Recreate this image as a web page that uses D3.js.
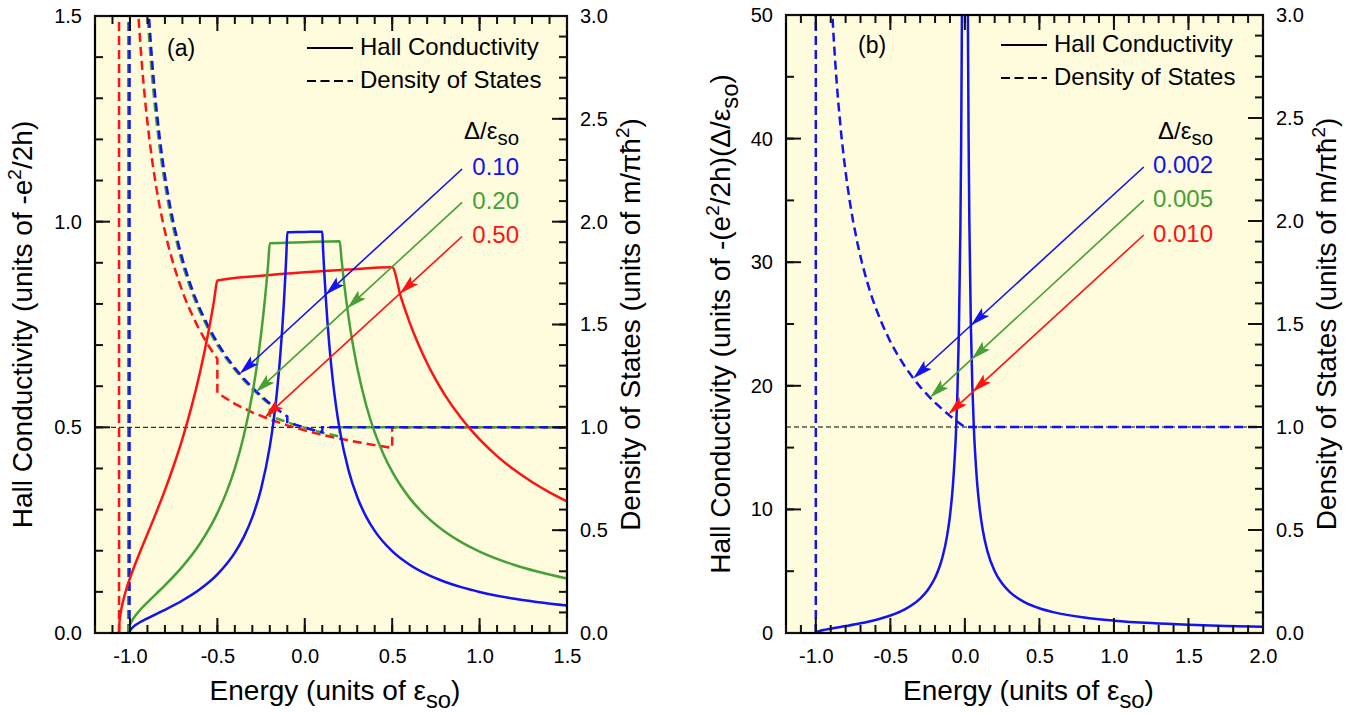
<!DOCTYPE html>
<html><head><meta charset="utf-8">
<script src="https://cdn.jsdelivr.net/npm/d3@7"></script>
<style>
body{margin:0;background:#fff}
text{font-family:"Liberation Sans",Arial,Helvetica,sans-serif;fill:#000}
</style></head>
<body><svg id="c" width="1360" height="714"></svg>
<script>
// ---------------- DATA ----------------
const hallA_010 = [[-1.0025,0],[-1.0,0.0050],[-0.99,0.0113],[-0.98,0.0154],[-0.97,0.0186],[-0.95,0.0242],[-0.9,0.0357],[-0.85,0.0461],[-0.8,0.0564],[-0.7,0.0789],[-0.6,0.1062],[-0.5,0.1425],[-0.4,0.1953],[-0.35,0.2325],[-0.3,0.2817],[-0.25,0.3505],[-0.2,0.4536],[-0.18,0.5109],[-0.16,0.5828],[-0.14,0.6754],[-0.12,0.7995],[-0.11,0.8788],[-0.105,0.9243],[-0.1,0.9744],[0,0.975],[0.1,0.9756],[0.105,0.9302],[0.11,0.8889],[0.12,0.8163],[0.14,0.7018],[0.16,0.6154],[0.18,0.5479],[0.2,0.4938],[0.25,0.396],[0.3,0.3306],[0.35,0.2837],[0.4,0.2484],[0.5,0.199],[0.6,0.166],[0.7,0.1423],[0.8,0.1246],[0.9,0.1108],[1.0,0.0998],[1.2,0.0832],[1.5,0.0666]];
const hallA_020 = [[-1.01,0],[-1.005,0.0142],[-1.0,0.0202],[-0.98,0.0357],[-0.95,0.0521],[-0.9,0.0745],[-0.85,0.0952],[-0.8,0.116],[-0.7,0.1614],[-0.6,0.2171],[-0.5,0.2915],[-0.45,0.3401],[-0.4,0.4005],[-0.35,0.4779],[-0.3,0.5811],[-0.28,0.6329],[-0.26,0.6928],[-0.24,0.763],[-0.22,0.8465],[-0.21,0.8944],[-0.2,0.9474],[0,0.9501],[0.2,0.9524],[0.21,0.9091],[0.22,0.8696],[0.24,0.8],[0.26,0.7407],[0.28,0.6897],[0.3,0.6452],[0.35,0.5556],[0.4,0.4878],[0.45,0.4348],[0.5,0.3922],[0.6,0.3279],[0.7,0.2817],[0.8,0.2469],[0.9,0.2198],[1.0,0.198],[1.2,0.1653],[1.5,0.1325]];
const hallA_050 = [[-1.0625,0],[-1.06,0.0251],[-1.055,0.0436],[-1.05,0.0566],[-1.04,0.0767],[-1.02,0.1077],[-1.0,0.1333],[-0.97,0.1676],[-0.95,0.189],[-0.9,0.2407],[-0.85,0.2927],[-0.8,0.3473],[-0.75,0.4066],[-0.7,0.4722],[-0.65,0.5466],[-0.6,0.6326],[-0.55,0.7342],[-0.52,0.805],[-0.5,0.8571],[-0.25,0.8685],[0,0.8769],[0.25,0.8835],[0.5,0.8889],[0.55,0.8163],[0.6,0.7547],[0.65,0.7018],[0.7,0.6557],[0.75,0.6154],[0.8,0.5797],[0.9,0.5195],[1.0,0.4706],[1.1,0.4301],[1.2,0.396],[1.3,0.367],[1.4,0.3419],[1.5,0.32]];
const dosA_010 = [[-1.0025,0],[-1.0025,3.5],[-0.9209,3.5],[-0.91,3.288],[-0.9,3.123],[-0.89,2.981],[-0.88,2.857],[-0.87,2.747],[-0.86,2.649],[-0.85,2.561],[-0.83,2.408],[-0.81,2.279],[-0.79,2.169],[-0.77,2.074],[-0.75,1.990],[-0.72,1.881],[-0.69,1.789],[-0.66,1.709],[-0.63,1.638],[-0.6,1.576],[-0.55,1.487],[-0.5,1.411],[-0.45,1.345],[-0.4,1.288],[-0.35,1.238],[-0.3,1.193],[-0.25,1.153],[-0.2,1.116],[-0.15,1.083],[-0.1,1.053],[-0.1,1.026],[-0.05,1.012],[0,0.9994],[0.05,0.9874],[0.1,0.9762],[0.1,1.0],[1.5,1.0]];
const dosA_020 = [[-1.01,0],[-1.01,3.5],[-0.9284,3.5],[-0.92,3.333],[-0.91,3.162],[-0.9,3.015],[-0.89,2.887],[-0.88,2.774],[-0.87,2.673],[-0.86,2.582],[-0.85,2.5],[-0.83,2.357],[-0.81,2.236],[-0.79,2.132],[-0.77,2.041],[-0.75,1.961],[-0.72,1.857],[-0.69,1.768],[-0.66,1.690],[-0.63,1.622],[-0.6,1.562],[-0.55,1.474],[-0.5,1.400],[-0.45,1.336],[-0.4,1.280],[-0.35,1.231],[-0.3,1.187],[-0.25,1.147],[-0.2,1.111],[-0.2,1.0556],[-0.1,1.0242],[0,0.9975],[0.1,0.9746],[0.2,0.9545],[0.2,1.0],[1.5,1.0]];
const dosA_050 = [[-1.0625,0],[-1.0625,3.5],[-0.9809,3.5],[-0.97,3.288],[-0.96,3.123],[-0.95,2.981],[-0.94,2.857],[-0.93,2.747],[-0.92,2.649],[-0.91,2.561],[-0.89,2.408],[-0.87,2.279],[-0.85,2.169],[-0.83,2.074],[-0.81,1.990],[-0.78,1.881],[-0.75,1.789],[-0.72,1.709],[-0.69,1.638],[-0.66,1.576],[-0.62,1.503],[-0.58,1.440],[-0.54,1.383],[-0.5,1.333],[-0.5,1.1667],[-0.4,1.1143],[-0.3,1.0726],[-0.2,1.0384],[-0.1,1.0096],[0,0.9851],[0.1,0.9637],[0.2,0.9450],[0.3,0.9284],[0.4,0.9135],[0.5,0.9000],[0.5,1.0],[1.5,1.0]];
const hallB_0002 = [[-1.0,0],[-0.995,0.0711],[-0.99,0.101],[-0.97,0.1786],[-0.95,0.2354],[-0.9,0.3514],[-0.8,0.559],[-0.7,0.7825],[-0.6,1.054],[-0.5,1.414],[-0.4,1.936],[-0.35,2.303],[-0.3,2.789],[-0.25,3.464],[-0.2,4.472],[-0.17,5.359],[-0.15,6.146],[-0.12,7.817],[-0.1,9.487],[-0.08,11.99],[-0.06,16.16],[-0.05,19.49],[-0.04,24.49],[-0.03,32.83],[-0.025,39.5],[-0.02,49.5],[-0.015,65.6],[-0.01,99.5],[-0.005,199],[-0.002,499.5],[0.002,500],[0.005,200],[0.01,100],[0.015,66.67],[0.02,50],[0.025,40],[0.03,33.33],[0.04,25],[0.05,20],[0.06,16.67],[0.08,12.5],[0.1,10],[0.12,8.333],[0.15,6.667],[0.2,5],[0.25,4],[0.3,3.333],[0.4,2.5],[0.5,2],[0.6,1.667],[0.8,1.25],[1.0,1],[1.25,0.8],[1.5,0.6667],[1.75,0.5714],[2.0,0.5]];
const dosB_0002 = [[-1.0,0],[-1.0,3.5],[-0.9184,3.5],[-0.91,3.333],[-0.9,3.162],[-0.89,3.015],[-0.88,2.887],[-0.87,2.774],[-0.86,2.673],[-0.85,2.582],[-0.83,2.425],[-0.81,2.294],[-0.79,2.182],[-0.77,2.085],[-0.75,2.0],[-0.72,1.890],[-0.69,1.796],[-0.66,1.715],[-0.63,1.644],[-0.6,1.581],[-0.55,1.491],[-0.5,1.414],[-0.45,1.348],[-0.4,1.291],[-0.35,1.240],[-0.3,1.195],[-0.25,1.155],[-0.2,1.118],[-0.15,1.085],[-0.1,1.054],[-0.05,1.026],[-0.02,1.010],[-0.002,1.001],[-0.002,1.0005],[0.002,0.9995],[0.002,1.0],[2.0,1.0]];

const xTicksA = [-1.0,-0.5,0,0.5,1.0,1.5];
const xLabelsA = ["-1.0","-0.5","0.0","0.5","1.0","1.5"];
const yTicksA = [0,0.5,1.0,1.5];
const yLabelsA = ["0.0","0.5","1.0","1.5"];
const xTicksB = [-1.0,-0.5,0,0.5,1.0,1.5,2.0];
const xLabelsB = ["-1.0","-0.5","0.0","0.5","1.0","1.5","2.0"];
const yTicksB = [0,10,20,30,40,50];
const yLabelsB = ["0","10","20","30","40","50"];
const dosTicks = [0,0.5,1.0,1.5,2.0,2.5,3.0];
const dosLabels = ["0.0","0.5","1.0","1.5","2.0","2.5","3.0"];
const deltaA = ["0.10","0.20","0.50"];
const deltaB = ["0.002","0.005","0.010"];
const arrowsA = [
  {start:[0.90,1.128], tip:[-0.372,0.630], mid:0.119},
  {start:[0.90,1.047], tip:[-0.28,0.585], mid:0.243},
  {start:[0.90,0.964], tip:[-0.229,0.524], mid:0.543}
];
const arrowsB = [
  {start:[1.2,37.7], tip:[-0.347,20.6], mid:0.040},
  {start:[1.2,35.0], tip:[-0.234,19.05], mid:0.045},
  {start:[1.2,32.2], tip:[-0.111,17.7], mid:0.051}
];

const BLUE="#1212f2", GREEN="#46a035", RED="#ff1212";
const cols=[BLUE,GREEN,RED];
const BG="#fefcdc";
const svg=d3.select("#c");
const tickLayer=[];

function rich(t, parts, size){
  parts.forEach((p,i)=>{
    const ts=t.append("tspan").text(p.t);
    if(p.sub){ts.attr("font-size",size*0.85).attr("dy",size*0.27);}
    else if(p.sup){ts.attr("font-size",size*0.68).attr("dy",-size*0.4);}
    else if(i>0){const prev=parts[i-1]; if(prev.sub) ts.attr("dy",-size*0.27); if(prev.sup) ts.attr("dy",size*0.4);}
  });
  return t;
}

function panel(c){
  const g=svg.append("g");
  const x=d3.scaleLinear().domain(c.xDom).range([c.L,c.R]);
  const yL=d3.scaleLinear().domain(c.yLDom).range([c.B,c.T]);
  const yR=d3.scaleLinear().domain([0,3]).range([c.B,c.T]);
  g.append("rect").attr("x",c.L).attr("y",c.T).attr("width",c.R-c.L).attr("height",c.B-c.T).attr("fill",BG);
  const cid="clip"+c.id;
  svg.append("clipPath").attr("id",cid).append("rect").attr("x",c.L).attr("y",c.T).attr("width",c.R-c.L).attr("height",c.B-c.T);
  const pg=g.append("g").attr("clip-path",`url(#${cid})`);
  pg.append("line").attr("x1",c.L).attr("x2",c.R).attr("y1",yR(1)).attr("y2",yR(1))
    .attr("stroke","#000").attr("stroke-width",1).attr("stroke-dasharray","5,3");
  const lineD=d3.line().x(d=>x(d[0])).y(d=>yR(d[1])).curve(d3.curveLinear);
  const lineH=d3.line().x(d=>x(d[0])).y(d=>yL(d[1])).curve(d3.curveMonotoneX);
  c.dos.forEach(s=>pg.append("path").attr("d",lineD(s.data)).attr("fill","none").attr("stroke",s.color)
      .attr("stroke-width",2.5).attr("stroke-dasharray","9,5"));
  c.hall.forEach(s=>pg.append("path").attr("d",lineH(s.data)).attr("fill","none").attr("stroke",s.color)
      .attr("stroke-width",2.5).attr("stroke-linejoin","round"));
  c.arrows.forEach((a,i)=>{
    const col=cols[i];
    const p0=[x(a.start[0]),yL(a.start[1])], p2=[x(a.tip[0]),yL(a.tip[1])];
    const dx=p2[0]-p0[0], dy=p2[1]-p0[1], len=Math.hypot(dx,dy), ux=dx/len, uy=dy/len;
    const t=(x(a.mid)-p0[0])/dx, p1=[p0[0]+t*dx,p0[1]+t*dy];
    pg.append("line").attr("x1",p0[0]).attr("y1",p0[1]).attr("x2",p2[0]-ux*8).attr("y2",p2[1]-uy*8)
      .attr("stroke",col).attr("stroke-width",1.6);
    [p1,p2].forEach(p=>{
      const Lh=20,w=5.5,n=4;
      const pts=[[p[0],p[1]],
        [p[0]-ux*Lh-uy*w,p[1]-uy*Lh+ux*w],
        [p[0]-ux*(Lh-n),p[1]-uy*(Lh-n)],
        [p[0]-ux*Lh+uy*w,p[1]-uy*Lh-ux*w]];
      pg.append("polygon").attr("points",pts.map(q=>q.join(",")).join(" ")).attr("fill",col);
    });
  });
  g.append("rect").attr("x",c.L).attr("y",c.T).attr("width",c.R-c.L).attr("height",c.B-c.T)
    .attr("fill","none").attr("stroke","#000").attr("stroke-width",2.2);
  // collect inward tick marks (drawn at the very end, on top of everything)
  function tickPath(scale, vals, len, orient){
    vals.forEach(v=>{
      const p=scale(v);
      if(orient==="b") tickLayer.push([p,c.B,p,c.B-len]);
      else if(orient==="t") tickLayer.push([p,c.T,p,c.T+len]);
      else if(orient==="l") tickLayer.push([c.L,p,c.L+len,p]);
      else tickLayer.push([c.R,p,c.R-len,p]);
    });
  }
  const xN=Math.round((c.xDom[1]-c.xDom[0])/0.1);
  ["b","t"].forEach(o=>{tickPath(x,x.ticks(xN),8,o); tickPath(x,c.xTicks,15,o);});
  tickPath(yL,yL.ticks(c.yLMinor),8,"l"); tickPath(yL,c.yTicks,15,"l");
  tickPath(yR,yR.ticks(30),8,"r"); tickPath(yR,dosTicks,15,"r");
  const fs=20;
  function labels(gen, scale, vals, labs, pos, pad){
    const a=g.append("g").attr("transform",pos)
      .call(gen(scale).tickValues(vals).tickSize(0).tickPadding(pad).tickFormat((d,i)=>labs[i]));
    a.select(".domain").remove();
    a.selectAll("line").remove();
    a.selectAll("text").attr("font-size",fs).attr("font-family",'"Liberation Sans",Arial,sans-serif').attr("fill","#000");
  }
  labels(d3.axisBottom,x,c.xTicks,c.xLabels,`translate(0,${c.B})`,16);
  labels(d3.axisLeft,yL,c.yTicks,c.yLabels,`translate(${c.L},0)`,13);
  labels(d3.axisRight,yR,dosTicks,dosLabels,`translate(${c.R},0)`,13);
  const ts=28;
  rich(g.append("text").attr("x",(c.L+c.R)/2+4).attr("y",c.B+67).attr("text-anchor","middle").attr("font-size",ts),
    [{t:"Energy (units of ε"},{t:"so",sub:true},{t:")"}],ts);
  rich(g.append("text").attr("transform",`translate(${c.yTitleX},${(c.T+c.B)/2}) rotate(-90)`).attr("text-anchor","middle").attr("font-size",ts),
    c.yTitle,ts);
  rich(g.append("text").attr("transform",`translate(${c.R+73},${(c.T+c.B)/2}) rotate(-90)`).attr("text-anchor","middle").attr("font-size",ts),
    [{t:"Density of States (units of m/πħ"},{t:"2",sup:true},{t:")"}],ts);
  g.append("text").attr("x",c.lab[0]).attr("y",c.lab[1]).attr("font-size",23).text(c.label);
  const lg=c.leg;
  g.append("line").attr("x1",lg[0]).attr("x2",lg[0]+46).attr("y1",lg[1]).attr("y2",lg[1]).attr("stroke","#000").attr("stroke-width",2);
  g.append("line").attr("x1",lg[0]).attr("x2",lg[0]+46).attr("y1",lg[1]+33).attr("y2",lg[1]+33).attr("stroke","#000").attr("stroke-width",2).attr("stroke-dasharray","9,4.5");
  g.append("text").attr("x",lg[0]+53).attr("y",lg[1]+7).attr("font-size",24).text("Hall Conductivity");
  g.append("text").attr("x",lg[0]+53).attr("y",lg[1]+40).attr("font-size",24).text("Density of States");
  rich(g.append("text").attr("x",c.dX).attr("y",139).attr("text-anchor","end").attr("font-size",24),
    [{t:"Δ/ε"},{t:"so",sub:true}],24);
  c.deltas.forEach((d,i)=>g.append("text").attr("x",c.dX).attr("y",c.dY[i]).attr("text-anchor","end")
    .attr("font-size",24).style("fill",cols[i]).text(d));
}

panel({id:"a",L:95,R:567,T:16,B:633,xDom:[-1.2,1.5],yLDom:[0,1.5],yLMinor:15,
  xTicks:xTicksA,xLabels:xLabelsA,yTicks:yTicksA,yLabels:yLabelsA,
  dos:[{data:dosA_050,color:RED},{data:dosA_020,color:GREEN},{data:dosA_010,color:BLUE}],
  hall:[{data:hallA_050,color:RED},{data:hallA_020,color:GREEN},{data:hallA_010,color:BLUE}],
  arrows:arrowsA, yTitleX:32,
  yTitle:[{t:"Hall Conductivity (units of -e"},{t:"2",sup:true},{t:"/2h)"}],
  label:"(a)",lab:[167,56],leg:[307,48],dX:519,dY:[175,209,243],deltas:deltaA});

panel({id:"b",L:786,R:1263,T:15,B:633,xDom:[-1.2,2.0],yLDom:[0,50],yLMinor:10,
  xTicks:xTicksB,xLabels:xLabelsB,yTicks:yTicksB,yLabels:yLabelsB,
  dos:[{data:dosB_0002,color:BLUE}],
  hall:[{data:hallB_0002,color:BLUE}],
  arrows:arrowsB, yTitleX:730,
  yTitle:[{t:"Hall Conductivity (units of -(e"},{t:"2",sup:true},{t:"/2h)(Δ/ε"},{t:"so",sub:true},{t:")"}],
  label:"(b)",lab:[858,53],leg:[1001,45],dX:1213,dY:[173,207,242],deltas:deltaB});

// tick marks on top of everything
svg.append("g").selectAll("line").data(tickLayer).enter().append("line")
  .attr("x1",d=>d[0]).attr("y1",d=>d[1]).attr("x2",d=>d[2]).attr("y2",d=>d[3])
  .attr("stroke","#111").attr("stroke-width",2);
</script></body></html>
